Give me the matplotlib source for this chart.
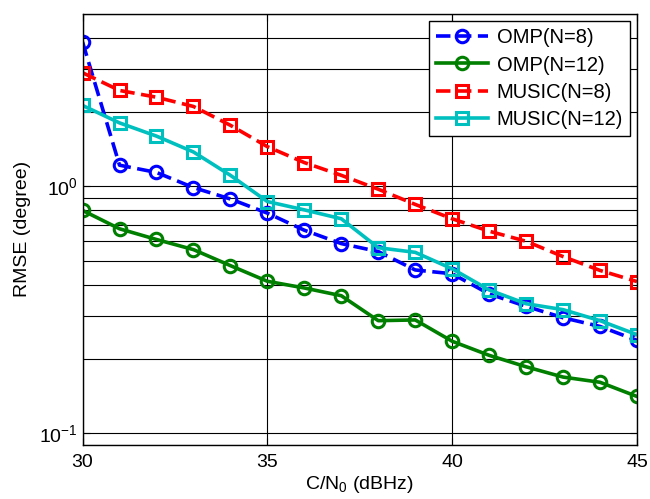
import matplotlib
matplotlib.use("Agg")
import matplotlib.pyplot as plt
from matplotlib.ticker import FixedLocator, FixedFormatter, NullFormatter

plt.rcParams["font.family"] = ["Liberation Sans", "DejaVu Sans"]
plt.rcParams["mathtext.default"] = "regular"

cn0 = [30, 31, 32, 33, 34, 35, 36, 37, 38, 39, 40, 41, 42, 43, 44, 45]

omp_n8 = [3.85, 1.22, 1.14, 0.99, 0.89, 0.78, 0.665, 0.587, 0.545, 0.459,
          0.443, 0.367, 0.327, 0.294, 0.271, 0.238]
omp_n12 = [0.80, 0.674, 0.610, 0.555, 0.478, 0.413, 0.388, 0.361, 0.286, 0.288,
           0.236, 0.207, 0.186, 0.169, 0.161, 0.141]
music_n8 = [2.89, 2.45, 2.30, 2.11, 1.77, 1.45, 1.25, 1.11, 0.975, 0.846,
            0.740, 0.659, 0.600, 0.520, 0.457, 0.412]
music_n12 = [2.13, 1.81, 1.60, 1.38, 1.11, 0.869, 0.804, 0.74, 0.565, 0.541,
             0.464, 0.381, 0.335, 0.317, 0.286, 0.251]

x_ticks = [30, 35, 40, 45]
y_major = [0.1, 1.0]
y_major_labels = ["$10^{-1}$", "$10^{0}$"]
y_minor = [0.09, 0.2, 0.3, 0.4, 0.5, 0.6, 0.7, 0.8, 0.9, 2, 3, 4, 5]

fig = plt.figure(figsize=(6.5, 4.99), dpi=100)
fig.patch.set_facecolor("white")
ax = fig.add_axes([0.127, 0.109, 0.853, 0.863])

dash = (4, 1.8)
lw = 2.6
ms = 9
mew = 2.2

ax.plot(cn0, omp_n8, color="#0000ff", linestyle="--", dashes=dash, linewidth=lw,
        marker="o", markersize=ms, markerfacecolor="none", markeredgewidth=mew,
        label="OMP(N=8)")
ax.plot(cn0, omp_n12, color="#007f00", linestyle="-", linewidth=lw,
        marker="o", markersize=ms, markerfacecolor="none", markeredgewidth=mew,
        label="OMP(N=12)")
ax.plot(cn0, music_n8, color="#ff0000", linestyle="--", dashes=dash, linewidth=lw,
        marker="s", markersize=ms, markerfacecolor="none", markeredgewidth=mew,
        label="MUSIC(N=8)")
ax.plot(cn0, music_n12, color="#00bfbf", linestyle="-", linewidth=lw,
        marker="s", markersize=ms, markerfacecolor="none", markeredgewidth=mew,
        label="MUSIC(N=12)")

ax.set_yscale("log")
ax.set_xlim(30, 45)
ax.set_ylim(0.09, 5)

ax.xaxis.set_major_locator(FixedLocator(x_ticks))
ax.yaxis.set_major_locator(FixedLocator(y_major))
ax.yaxis.set_major_formatter(FixedFormatter(y_major_labels))
ax.yaxis.set_minor_locator(FixedLocator(y_minor))
ax.yaxis.set_minor_formatter(NullFormatter())

ax.grid(True, which="major", axis="both", color="black", linewidth=0.8)
ax.grid(True, which="minor", axis="y", color="black", linewidth=0.8)
ax.set_axisbelow(True)

ax.tick_params(which="both", direction="in", top=True, right=True,
               labelsize=14, color="black")
ax.tick_params(which="major", length=5)
ax.tick_params(which="minor", length=3)
ax.tick_params(axis="x", pad=7)
for s in ax.spines.values():
    s.set_linewidth(1.0)
    s.set_color("black")

ax.set_xlabel("C/N$_0$ (dBHz)", fontsize=14, labelpad=2)
ax.set_ylabel("RMSE (degree)", fontsize=14, labelpad=6)

leg = ax.legend(loc="upper right", fontsize=14.5, handlelength=2.6,
                borderaxespad=0.35, labelspacing=0.42, handletextpad=0.4,
                borderpad=0.35, fancybox=False, framealpha=1, edgecolor="black")
leg.get_frame().set_linewidth(1.0)

fig.savefig("out.png", dpi=100)
